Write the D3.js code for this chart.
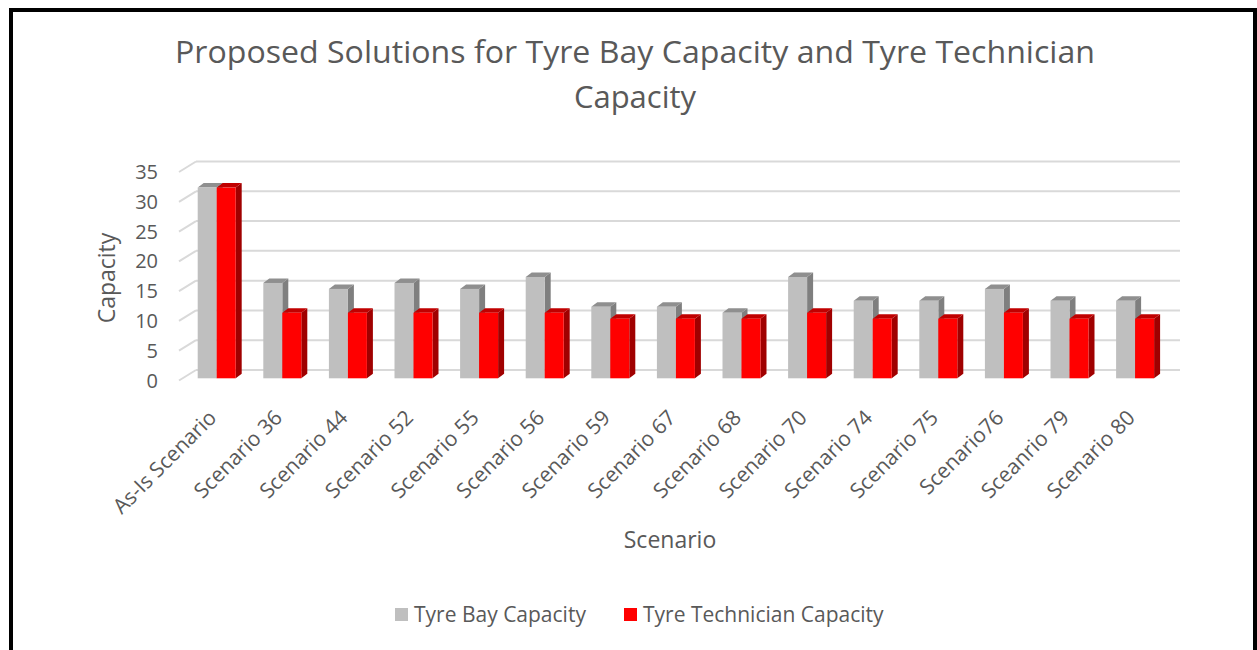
<!DOCTYPE html>
<html>
<head>
<meta charset="utf-8">
<script src="https://cdn.jsdelivr.net/npm/d3@7"></script>
<style>
  html, body { margin: 0; padding: 0; background: #fff; }
  svg { display: block; }
  text { font-family: "Open Sans", "Noto Sans", sans-serif; fill: #595959; }
</style>
</head>
<body>
<svg id="chart" width="1257" height="650"></svg>
<script>
const categories = ["As-Is Scenario", "Scenario 36", "Scenario 44", "Scenario 52", "Scenario 55",
  "Scenario 56", "Scenario 59", "Scenario 67", "Scenario 68", "Scenario 70", "Scenario 74",
  "Scenario 75", "Scenario76", "Sceanrio 79", "Scenario 80"];
const tyreBay = [32, 16, 15, 16, 15, 17, 12, 12, 11, 17, 13, 13, 15, 13, 13];
const tyreTech = [32, 11, 11, 11, 11, 11, 10, 10, 10, 11, 10, 10, 11, 10, 10];
const yTicks = [0, 5, 10, 15, 20, 25, 30, 35];
const seriesNames = ["Tyre Bay Capacity", "Tyre Technician Capacity"];
const seriesColors = [
  { front: "#BFBFBF", top: "#8F8F8F", side: "#7F7F7F" },
  { front: "#FF0000", top: "#C00000", side: "#A00000" }
];

const svg = d3.select("#chart");

// frame
svg.append("rect").attr("x", 11).attr("y", 10).attr("width", 1244).attr("height", 700)
  .attr("fill", "none").attr("stroke", "#000").attr("stroke-width", 4);

// scales
const x = d3.scaleBand().domain(categories).range([179, 1163]).paddingInner(0).paddingOuter(0);
const yBack = d3.scaleLinear().domain([0, 35]).range([370, 161.5]);
const yFront = d3.scaleLinear().domain([0, 35]).range([380.5, 172]);
const yBar = d3.scaleLinear().domain([0, 35]).range([378.3, 378.3 - 35 * 5.96]);
const wallDx = 17;

// gridlines on back wall + diagonal on side
const grid = svg.append("g");
yTicks.forEach(t => {
  grid.append("line").attr("x1", 179 + wallDx).attr("x2", 1180)
    .attr("y1", yBack(t)).attr("y2", yBack(t))
    .attr("stroke", "#D9D9D9").attr("stroke-width", 2);
  grid.append("line").attr("x1", 179).attr("x2", 179 + wallDx)
    .attr("y1", yFront(t)).attr("y2", yBack(t))
    .attr("stroke", "#D9D9D9").attr("stroke-width", 2);
});

// y tick labels
svg.append("g").selectAll("text").data(yTicks).join("text")
  .attr("x", 158).attr("y", d => yFront(d)).attr("dy", "0.35em")
  .attr("text-anchor", "end").attr("font-size", 20).text(d => d);

// bars
const bw = 19, dx = 6, dy = 4.5;
const bars = svg.append("g");
categories.forEach((c, i) => {
  const vals = [tyreBay[i], tyreTech[i]];
  vals.forEach((v, s) => {
    const x0 = x(c) + 18.7 + s * bw;
    const top = yBar(v), base = yBar(0);
    const col = seriesColors[s];
    bars.append("polygon")
      .attr("points", [[x0 + bw, top], [x0 + bw + dx, top - dy], [x0 + bw + dx, base - dy], [x0 + bw, base]].join(" "))
      .attr("fill", col.side);
    bars.append("polygon")
      .attr("points", [[x0, top], [x0 + dx, top - dy], [x0 + bw + dx, top - dy], [x0 + bw, top]].join(" "))
      .attr("fill", col.top);
    bars.append("rect").attr("x", x0).attr("y", top).attr("width", bw).attr("height", base - top)
      .attr("fill", col.front);
  });
});

// category labels
svg.append("g").selectAll("text").data(categories).join("text")
  .attr("transform", d => `translate(${x(d) + x.bandwidth() / 2 + 6},${419}) rotate(-45)`)
  .attr("text-anchor", "end").attr("font-size", 21).text(d => d);

// axis titles
svg.append("text").attr("x", 670).attr("y", 548).attr("text-anchor", "middle")
  .attr("font-size", 23).text("Scenario");
svg.append("text").attr("transform", "translate(115,278) rotate(-90)")
  .attr("text-anchor", "middle").attr("font-size", 23).text("Capacity");

// title
svg.append("text").attr("x", 635).attr("y", 63).attr("text-anchor", "middle")
  .attr("font-size", 31).attr("textLength", 920).attr("lengthAdjust", "spacingAndGlyphs")
  .text("Proposed Solutions for Tyre Bay Capacity and Tyre Technician");
svg.append("text").attr("x", 635).attr("y", 108).attr("text-anchor", "middle")
  .attr("font-size", 31).text("Capacity");

// legend
const legend = svg.append("g");
const legendX = [395, 624];
seriesNames.forEach((n, i) => {
  legend.append("rect").attr("x", legendX[i]).attr("y", 608).attr("width", 13).attr("height", 13)
    .attr("fill", seriesColors[i].front);
  legend.append("text").attr("x", legendX[i] + 19).attr("y", 622).attr("font-size", 21).text(n);
});
</script>
</body>
</html>
